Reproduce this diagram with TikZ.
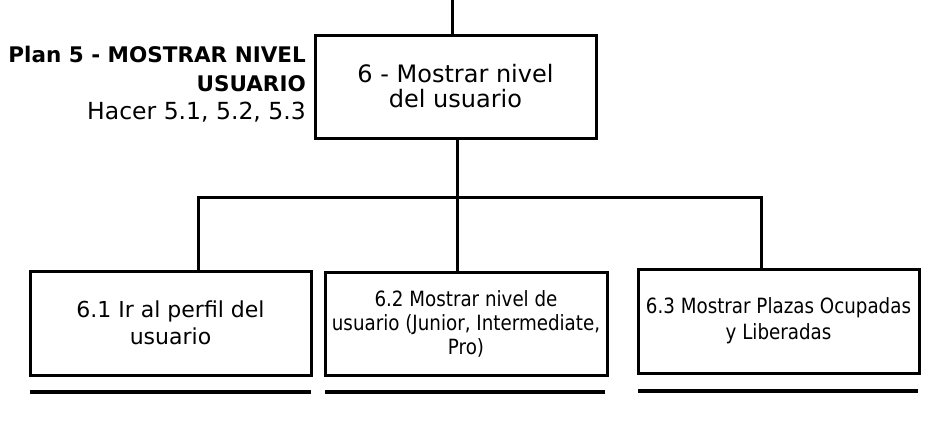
\documentclass[tikz,border=0pt]{standalone}
\usepackage{fontspec}
\setmainfont{DejaVu Sans}
\newfontfamily\condf{DejaVu Sans}[FakeStretch=0.87]
\begin{document}
\begin{tikzpicture}[x=1pt,y=-1pt,
  box/.style={draw=black,line width=3pt,fill=white,inner sep=0pt,align=center},
  conn/.style={draw=black,line width=3pt},
  uline/.style={draw=black,line width=3.5pt},
  plan/.style={anchor=base east,inner sep=0pt}]
\useasboundingbox (0,0) rectangle (950,423);
% main box
\node[box,minimum width=281,minimum height=103,
  font=\fontsize{24}{25}\selectfont] (main) at (455.5,86.5) {6 - Mostrar nivel\\del usuario};
% plan text
\node[plan,font=\fontsize{21.5}{25}\selectfont\bfseries] (p1) at (306,62) {Plan 5 - MOSTRAR NIVEL};
\node[plan,font=\fontsize{21.5}{25}\selectfont\bfseries] (p2) at (306,91) {USUARIO};
\node[plan,font=\fontsize{23.5}{25}\selectfont] (p3) at (306,119) {Hacer 5.1, 5.2, 5.3};
% child boxes
\node[box,minimum width=281,minimum height=104,
  font=\fontsize{22}{27}\selectfont] (b1) at (170.5,323) {6.1 Ir al perfil del\\usuario};
\node[box,minimum width=282,minimum height=103,
  font=\condf\fontsize{21}{24}\selectfont] (b2) at (466,323.5) {6.2 Mostrar nivel de\\usuario (Junior, Intermediate,\\Pro)};
\node[box,minimum width=281,minimum height=104,
  font=\condf\fontsize{21}{26}\selectfont] (b3) at (778.5,321) {6.3 Mostrar Plazas Ocupadas\\y Liberadas};
% connectors
\coordinate (top) at (452,0);
\coordinate (j) at (457,197);
\coordinate (h1) at (198,197);
\coordinate (h3) at (761,197);
\draw[conn] (top) -- (top |- main.north);
\draw[conn] (main.south -| j) -- (j) -- (j |- b2.north);
\draw[conn] (h1 |- b1.north) -- (h1) -- (h3) -- (h3 |- b3.north);
% underlines
\coordinate (u1a) at (30,392); \coordinate (u1b) at (311,392);
\coordinate (u2a) at (325,392); \coordinate (u2b) at (605,392);
\coordinate (u3a) at (638,391); \coordinate (u3b) at (918,391);
\draw[uline] (u1a) -- (u1b);
\draw[uline] (u2a) -- (u2b);
\draw[uline] (u3a) -- (u3b);
\end{tikzpicture}
\end{document}
